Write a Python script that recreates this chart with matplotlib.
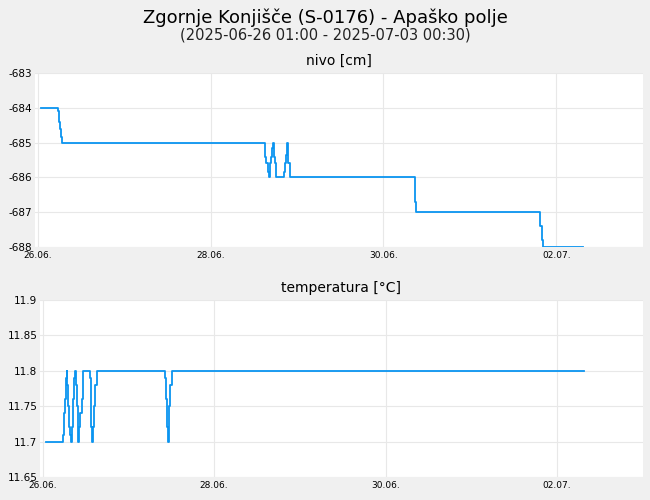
import matplotlib
matplotlib.use('Agg')
import matplotlib.pyplot as plt

plt.rcParams['axes.unicode_minus'] = False

# time in days since 26.06. 00:00
nivo_t = [0.04, 0.24, 0.25, 0.26, 0.27, 0.28, 0.29, 2.62, 2.63, 2.645, 2.66, 2.67,
          2.69, 2.70, 2.71, 2.72, 2.73, 2.745, 2.76, 2.83, 2.85, 2.86, 2.87, 2.88,
          2.89, 2.90, 2.92, 4.35, 4.36, 4.37, 4.38, 5.80, 5.81, 5.83, 5.85, 6.31]
nivo_v = [-684, -684.1, -684.4, -684.6, -684.85, -685, -685, -685, -685.4, -685.6, -685.85, -686,
          -685.6, -685.4, -685.15, -685, -685.4, -685.6, -686, -686, -685.85, -685.6, -685.35, -685,
          -685.4, -685.6, -686, -686, -686.3, -686.7, -687, -687, -687.4, -687.8, -688, -688]

temp_t = [0.04, 0.24, 0.25, 0.26, 0.27, 0.28, 0.29, 0.30, 0.31, 0.32, 0.33,
          0.345, 0.355, 0.365, 0.38, 0.39, 0.40, 0.41, 0.43, 0.44, 0.455, 0.47,
          0.54, 0.55, 0.56, 0.57, 0.58, 0.59, 0.60, 0.61, 0.63, 1.42, 1.43,
          1.44, 1.45, 1.46, 1.48, 1.49, 1.51, 6.31]
temp_v = [11.7, 11.71, 11.74, 11.76, 11.79, 11.8, 11.78, 11.75, 11.72, 11.71, 11.7,
          11.72, 11.76, 11.79, 11.8, 11.78, 11.75, 11.7, 11.72, 11.74, 11.76, 11.8,
          11.8, 11.79, 11.76, 11.72, 11.7, 11.72, 11.75, 11.78, 11.8, 11.8, 11.79,
          11.76, 11.72, 11.7, 11.75, 11.78, 11.8, 11.8]

tick_pos = [0, 2, 4, 6]
tick_labels = ['26.06.', '28.06.', '30.06.', '02.07.']

title = 'Zgornje Konjišče (S-0176) - Apaško polje'
subtitle = '(2025-06-26 01:00 - 2025-07-03 00:30)'

bg = '#f0f0f0'
line_color = '#0a94f0'

fig = plt.figure(figsize=(6.5, 5), dpi=100, facecolor=bg)
fig.text(0.5, 0.965, title, ha='center', va='center', fontsize=13)
fig.text(0.5, 0.93, subtitle, ha='center', va='center', fontsize=10.5, color='#222222')

ax1 = fig.add_axes([0.054, 0.506, 0.935, 0.348])
ax2 = fig.add_axes([0.0615, 0.046, 0.9275, 0.354])

def style(ax, name):
    ax.set_facecolor('white')
    for s in ax.spines.values():
        s.set_visible(False)
    ax.grid(True, color='#e8e8e8', linewidth=0.8)
    ax.set_axisbelow(True)
    ax.tick_params(length=0, labelsize=7.5, pad=2)
    ax.tick_params(axis='x', labelsize=6.5, pad=3)
    ax.set_xticks(tick_pos)
    ax.set_xticklabels(tick_labels)
    ax.set_xlim(-0.03, 7.0)
    ax.set_title(name, fontsize=10, pad=6)

style(ax1, 'nivo [cm]')
ax1.plot(nivo_t, nivo_v, drawstyle='steps-post', color=line_color, linewidth=1.3)
ax1.set_ylim(-688, -683)
ax1.set_yticks(range(-688, -682))

style(ax2, 'temperatura [°C]')
ax2.plot(temp_t, temp_v, drawstyle='steps-post', color=line_color, linewidth=1.3)
ax2.set_ylim(11.65, 11.9)
ax2.set_yticks([11.65, 11.7, 11.75, 11.8, 11.85, 11.9])
ax2.set_yticklabels(['11.65', '11.7', '11.75', '11.8', '11.85', '11.9'])

fig.savefig('out.png', dpi=100, facecolor=bg)
